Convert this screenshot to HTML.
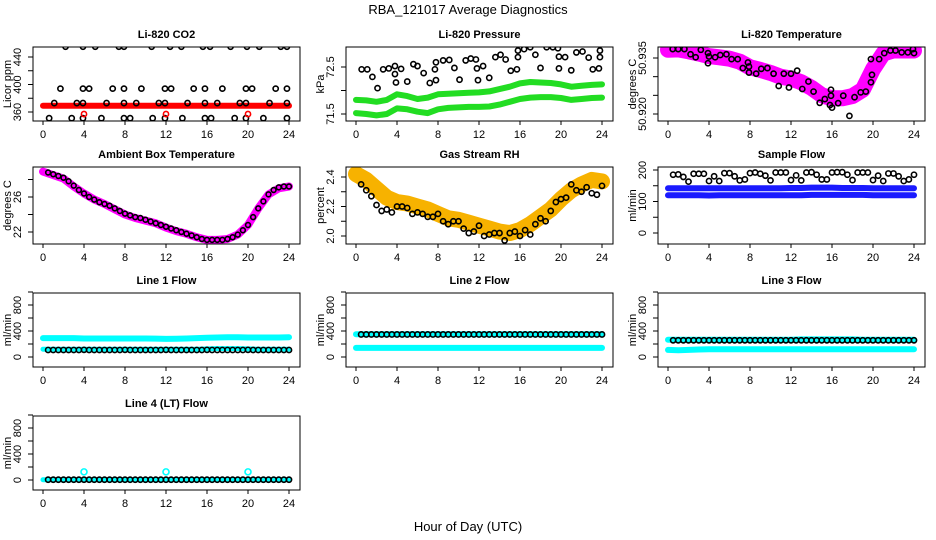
<!DOCTYPE html>
<html><head><meta charset="utf-8"><style>
html,body{margin:0;padding:0;background:#fff;}
svg{display:block;font-family:"Liberation Sans",Arial,sans-serif;}
</style></head><body>
<svg id="chart" width="936" height="540" viewBox="0 0 936 540" xmlns="http://www.w3.org/2000/svg">
<text x="468" y="14" text-anchor="middle" font-size="13">RBA_121017  Average Diagnostics</text>
<text x="468" y="531" text-anchor="middle" font-size="13">Hour of Day (UTC)</text>
</svg>
<script>
// ---- shared categories ----
const hours = [0,1,2,3,4,5,6,7,8,9,10,11,12,13,14,15,16,17,18,19,20,21,22,23,24];
const halfHours = [0.5,1,1.5,2,2.5,3,3.5,4,4.5,5,5.5,6,6.5,7,7.5,8,8.5,9,9.5,10,10.5,11,11.5,12,12.5,13,13.5,14,14.5,15,15.5,16,16.5,17,17.5,18,18.5,19,19.5,20,20.5,21,21.5,22,22.5,23,23.5,24];
const xTicks = [0,4,8,12,16,20,24];

// ---- CO2 ----
const co2BandV = [369,369,369,369,369,369,369,369,369,369,369,369,369,369,369,369,369,369,369,369,369,369,369,369,369];
const co2T = [0.6,1.1,1.7,2.2,2.8,3.3,3.9,3.9,3.9,3.9,4.5,5.1,5.7,6.2,6.8,7.4,7.9,7.9,7.9,7.9,8.5,9.1,9.6,10.6,10.7,11.3,11.9,11.9,11.9,12.4,12.5,13.5,13.6,14.1,14.7,15.6,15.8,15.8,15.8,16.3,16.4,17.0,17.5,18.3,18.7,19.2,19.8,19.8,19.8,19.9,20.4,21.1,21.5,22.1,22.7,23.2,23.8,23.8,23.8,23.8];
const co2V = [351,373,394,455,351,373,455,394,373,351,394,455,351,373,394,455,455,394,373,351,351,373,394,455,351,373,394,373,351,455,394,455,351,373,394,455,394,373,351,455,351,373,394,455,351,373,394,373,351,455,394,455,351,373,394,455,455,394,373,351];
const co2RedT = [4,12,20];
const co2RedV = [357,357,357];

// ---- Pressure ----
const presLow = [71.52,71.50,71.47,71.50,71.62,71.60,71.55,71.52,71.60,71.63,71.64,71.65,71.65,71.66,71.70,71.76,71.82,71.85,71.86,71.86,71.84,71.80,71.82,71.84,71.85];
const presHigh = [71.80,71.79,71.76,71.80,71.92,71.88,71.82,71.85,71.92,71.93,71.94,71.95,71.96,71.98,72.03,72.08,72.15,72.18,72.17,72.16,72.13,72.08,72.10,72.12,72.13];
const presT = [0.55,1.1,1.6,2.1,2.65,3.2,3.8,3.8,3.9,4.4,5.0,5.6,6.0,6.6,7.2,7.7,7.8,7.8,8.5,9.1,9.6,10.1,10.7,11.2,11.7,11.8,11.9,12.4,13.0,13.6,14.1,14.6,15.1,15.7,15.8,15.8,16.4,17.0,17.5,18.0,18.6,19.2,19.7,19.8,19.8,20.4,21.0,21.5,22.1,22.7,23.1,23.7,23.8,23.8];
const presV = [72.45,72.45,72.29,72.05,72.45,72.47,72.52,72.35,72.17,72.46,72.19,72.56,72.52,72.37,72.16,72.45,72.60,72.22,72.64,72.65,72.48,72.23,72.64,72.68,72.66,72.47,72.22,72.52,72.27,72.71,72.76,72.66,72.42,72.45,72.71,72.85,72.88,72.92,72.76,72.48,72.92,72.92,72.90,72.72,72.47,72.71,72.43,72.81,72.83,72.70,72.45,72.47,72.71,72.85];

// ---- Li-820 temperature ----
const tempBand = [50.9372,50.9373,50.9368,50.9362,50.9355,50.9352,50.9348,50.9340,50.9325,50.9318,50.9310,50.9300,50.9295,50.9285,50.9270,50.9250,50.9242,50.9242,50.9248,50.9265,50.9320,50.9362,50.9370,50.9370,50.9370];
const tempT = [0.46,1.0,1.6,2.2,2.7,3.2,3.9,3.9,4.0,4.6,5.1,5.7,6.2,6.8,7.3,7.8,7.9,7.9,8.6,9.1,9.7,10.3,10.8,11.3,11.8,12.0,12.6,13.1,13.7,14.2,14.8,15.3,15.9,15.9,15.8,16.0,16.6,17.1,17.7,18.2,18.8,19.3,19.8,19.9,19.8,20.6,21.1,21.7,22.2,22.8,23.4,23.9,24.0];
const tempV = [50.9374,50.9374,50.9374,50.9360,50.9352,50.9372,50.9363,50.9336,50.9354,50.9352,50.9358,50.9360,50.9347,50.9347,50.9323,50.9338,50.9327,50.9311,50.9308,50.9321,50.9323,50.9308,50.9275,50.9308,50.9271,50.9308,50.9316,50.9267,50.9287,50.9260,50.9230,50.9240,50.9265,50.9249,50.9224,50.9217,50.9229,50.9249,50.9195,50.9245,50.9258,50.9260,50.9347,50.9305,50.9285,50.9347,50.9363,50.9370,50.9370,50.9365,50.9365,50.9374,50.9363];

// ---- Ambient box temperature ----
const ambBand = [28.9,28.5,28.1,27.2,26.4,25.7,25.2,24.6,24.0,23.6,23.3,23.0,22.5,22.1,21.8,21.4,21.1,21.1,21.2,21.7,22.8,24.7,26.3,27.0,27.2];
const ambV = [28.8,28.6,28.4,28.2,27.8,27.3,26.8,26.4,26.0,25.7,25.4,25.2,25.0,24.7,24.4,24.1,23.9,23.7,23.6,23.4,23.2,23.0,22.8,22.6,22.4,22.2,22.0,21.8,21.6,21.4,21.2,21.1,21.1,21.1,21.1,21.2,21.4,21.7,22.2,22.8,23.7,24.7,25.5,26.3,26.8,27.1,27.2,27.2];

// ---- Gas stream RH ----
const rhBand = [2.42,2.38,2.32,2.26,2.23,2.22,2.20,2.18,2.15,2.12,2.11,2.09,2.07,2.05,2.03,2.02,2.04,2.08,2.13,2.18,2.25,2.31,2.35,2.38,2.37];
const rhV = [2.35,2.31,2.27,2.21,2.17,2.18,2.16,2.20,2.20,2.19,2.15,2.16,2.15,2.13,2.13,2.15,2.10,2.08,2.10,2.10,2.05,2.02,2.03,2.07,2.00,2.01,2.02,2.02,1.97,2.02,2.03,2.00,2.04,2.01,2.08,2.12,2.10,2.17,2.23,2.25,2.26,2.35,2.31,2.30,2.33,2.29,2.28,2.34];

// ---- Sample flow ----
const sfHigh = [142,142,142,142,142,142,142,142,142,142,142,142,143,143,144,144,144,143,143,143,142,142,142,142,142];
const sfLow = [120,120,120,120,119,120,120,120,120,120,120,120,120,120,121,121,121,121,121,121,120,120,120,120,120];
const sfV = [185,186,178,163,188,188,188,165,180,165,190,190,180,167,170,190,192,188,182,167,192,192,192,168,183,167,192,193,185,170,170,192,193,193,185,168,192,192,192,168,182,165,189,189,180,165,170,185];

// ---- Line flows ----
const l1High = [290,290,290,290,285,285,285,285,285,285,285,283,278,280,285,290,295,300,305,305,300,300,300,300,305];
const l1Low = [120,120,120,120,120,120,120,120,120,120,120,120,120,120,120,120,125,130,130,130,125,120,120,120,120];
const l1V = [108,108,108,108,108,108,108,110,108,108,108,108,108,108,108,110,108,108,108,108,108,108,108,110,108,108,108,108,108,108,108,110,108,108,108,108,108,108,108,110,108,108,108,108,108,108,108,108];
const l2High = [350,350,350,350,350,350,350,350,350,350,350,350,350,350,350,350,350,350,350,350,350,350,350,350,350];
const l2Low = [140,140,140,140,140,140,140,140,140,140,140,140,140,140,140,140,140,140,140,140,140,140,140,140,140];
const l2V = [347,347,347,347,347,347,347,347,347,347,347,347,347,347,347,347,347,347,347,347,347,347,347,347,347,347,347,347,347,347,347,347,347,347,347,347,347,347,347,347,347,347,347,347,347,347,347,347];
const l3High = [265,265,265,265,265,265,265,265,265,265,265,265,265,270,270,270,270,270,270,265,265,265,265,265,265];
const l3Low = [110,105,110,115,120,120,120,120,120,120,120,120,120,120,120,120,120,120,120,120,120,120,120,120,120];
const l3V = [257,257,257,257,257,257,257,257,257,257,257,257,257,257,257,257,257,257,257,257,257,257,257,257,257,257,257,257,257,257,257,257,257,257,257,257,257,257,257,257,257,257,257,257,257,257,257,257];
const l4Band = [5,5,5,5,5,5,5,5,5,5,5,5,5,5,5,5,5,5,5,5,5,5,5,5,5];
const l4V = [5,5,5,5,5,5,5,5,5,5,5,5,5,5,5,5,5,5,5,5,5,5,5,5,5,5,5,5,5,5,5,5,5,5,5,5,5,5,5,5,5,5,5,5,5,5,5,5];
const l4OutT = [4,12,20];
const l4OutV = [125,125,125];

const NS = 'http://www.w3.org/2000/svg';
const svg = document.getElementById('chart');
const colX = [43, 356, 668];
const rowTop = [47, 167, 293, 416];
const rowBot = [121, 244, 367, 490];
const HX = 10.25;

function mk(tag, attrs, parent) {
  const e = document.createElementNS(NS, tag);
  for (const k in attrs) e.setAttribute(k, attrs[k]);
  (parent || svg).appendChild(e);
  return e;
}

function panel(name, col, row, title, ylab, v1, y1, v2, y2, yticks, ylabels) {
  const ox = colX[col];
  const top = rowTop[row], bot = rowBot[row];
  const left = ox - 10, right = ox + 257;
  const g = mk('g', {});
  
  
  const sx = t => ox + t * HX;
  const sy = v => y1 + (v - v1) * (y2 - y1) / (v2 - v1);
  const clipId = 'clip-' + name;
  const cp = mk('clipPath', {id: clipId}, g);
  mk('rect', {x: left, y: top, width: right - left, height: bot - top}, cp);
  const plot = mk('g', {'clip-path': 'url(#' + clipId + ')'}, g);
  
  
  const frame = mk('rect', {x: left, y: top, width: right - left, height: bot - top, fill: 'none', stroke: '#000', 'stroke-width': 1}, g);
  
  
  const tt = mk('text', {x: (left + right) / 2, y: top - 9, 'text-anchor': 'middle', 'font-size': 11, 'font-weight': 'bold'}, g);
  tt.textContent = title;
  
  
  const xa = mk('g', {}, g);
  
  
  xTicks.forEach(t => {
    mk('line', {x1: sx(t), x2: sx(t), y1: bot, y2: bot + 4, stroke: '#000'}, xa);
    const lb = mk('text', {x: sx(t), y: bot + 17, 'text-anchor': 'middle', 'font-size': 11}, xa);
    lb.textContent = t;
    
    
  });
  const ya = mk('g', {}, g);
  
  
  yticks.forEach((v, i) => {
    const y = sy(v);
    mk('line', {x1: left - 5, x2: left, y1: y, y2: y, stroke: '#000'}, ya);
    if (ylabels[i] !== '') {
      const lb = mk('text', {x: left - 12, y: y, 'text-anchor': 'middle', 'font-size': 11, transform: 'rotate(-90 ' + (left - 12) + ' ' + y + ')'}, ya);
      lb.textContent = ylabels[i];
      
      
    }
  });
  const cy = (top + bot) / 2;
  const yt = mk('text', {x: left - 22, y: cy, 'text-anchor': 'middle', 'font-size': 11, transform: 'rotate(-90 ' + (left - 22) + ' ' + cy + ')'}, g);
  yt.textContent = ylab;
  
  
  return {plot, sx, sy, name};
}

function band(p, xs, vs, color, w) {
  const d = xs.map((t, i) => (i ? 'L' : 'M') + p.sx(t).toFixed(1) + ' ' + p.sy(vs[i]).toFixed(1)).join(' ');
  const path = mk('path', {d: d, fill: 'none', stroke: color, 'stroke-width': w, 'stroke-linecap': 'round', 'stroke-linejoin': 'round'}, p.plot);
  
  
  return path;
}

function pts(p, ts, vs, color, r) {
  const g = mk('g', {}, p.plot);
  
  
  ts.forEach((t, i) => {
    const c = mk('circle', {cx: p.sx(t), cy: p.sy(vs[i]), r: r || 2.6, fill: 'none', stroke: color, 'stroke-width': 1.6}, g);
    
    
  });
}

let p = panel('co2', 0, 0, 'Li-820 CO2', 'Licor ppm', 360, 112, 440, 57, [360,380,400,420,440], ['360','','400','','440']);
band(p, hours, co2BandV, '#ff0000', 6);
pts(p, co2T, co2V, '#000');
pts(p, co2RedT, co2RedV, '#ff0000');

p = panel('pressure', 1, 0, 'Li-820 Pressure', 'kPa', 71.5, 114, 72.5, 67, [71.5,72.0,72.5], ['71.5','','72.5']);
band(p, hours, presLow, '#22dd22', 6);
band(p, hours, presHigh, '#22dd22', 6);
pts(p, presT, presV, '#000');

p = panel('li820-temp', 2, 0, 'Li-820 Temperature', 'degrees C', 50.920, 114, 50.935, 58, [50.920,50.925,50.930,50.935], ['50.920','','','50.935']);
band(p, hours, tempBand, '#ff00ff', 16);
pts(p, tempT, tempV, '#000');

p = panel('ambient-temp', 0, 1, 'Ambient Box Temperature', 'degrees C', 22, 232, 26, 197, [22,24,26,28], ['22','','26','']);
band(p, hours, ambBand, '#ff00ff', 8);
pts(p, halfHours, ambV, '#000', 2.4);

p = panel('gas-rh', 1, 1, 'Gas Stream RH', 'percent', 2.0, 236, 2.4, 177, [2.0,2.1,2.2,2.3,2.4], ['2.0','','2.2','','2.4']);
band(p, hours, rhBand, '#f7b200', 16);
pts(p, halfHours, rhV, '#000', 2.6);

p = panel('sample-flow', 2, 1, 'Sample Flow', 'ml/min', 0, 233, 200, 170, [0,50,100,150,200], ['0','','100','','200']);
band(p, hours, sfHigh, '#1a1aff', 6);
band(p, hours, sfLow, '#1a1aff', 6);
pts(p, halfHours, sfV, '#000', 2.6);

const lt = [0,200,400,600,800,1000], ll = ['0','','400','','800',''];
p = panel('line1-flow', 0, 2, 'Line 1 Flow', 'ml/min', 0, 357, 800, 305, lt, ll);
band(p, hours, l1High, '#00ffff', 6);
band(p, hours, l1Low, '#00ffff', 5);
pts(p, halfHours, l1V, '#000', 2.6);

p = panel('line2-flow', 1, 2, 'Line 2 Flow', 'ml/min', 0, 357, 800, 305, lt, ll);
band(p, hours, l2High, '#00ffff', 6);
band(p, hours, l2Low, '#00ffff', 6);
pts(p, halfHours, l2V, '#000', 2.6);

p = panel('line3-flow', 2, 2, 'Line 3 Flow', 'ml/min', 0, 357, 800, 305, lt, ll);
band(p, hours, l3High, '#00ffff', 6);
band(p, hours, l3Low, '#00ffff', 6);
pts(p, halfHours, l3V, '#000', 2.6);

p = panel('line4-flow', 0, 3, 'Line 4 (LT) Flow', 'ml/min', 0, 480, 800, 428, lt, ll);
band(p, hours, l4Band, '#00ffff', 5);
pts(p, halfHours, l4V, '#000', 2.6);
pts(p, l4OutT, l4OutV, '#00ffff', 3);
</script>
</body></html>
